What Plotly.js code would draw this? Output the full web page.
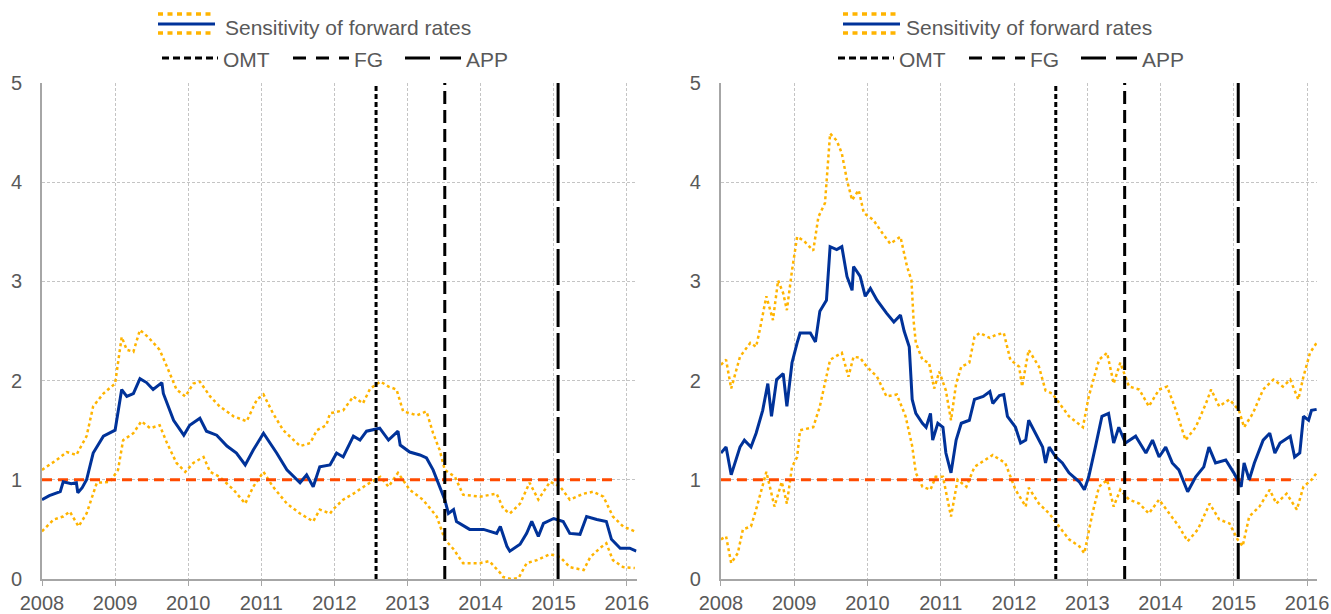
<!DOCTYPE html>
<html><head><meta charset="utf-8">
<script src="https://cdn.plot.ly/plotly-3.0.1.min.js"></script>
<style>body{margin:0;background:#fff}#chart{width:1331px;height:614px}</style>
</head><body><div id="chart"></div>
<script>
// ---------- DATA ----------
const yearTicks = [2008, 2009, 2010, 2011, 2012, 2013, 2014, 2015, 2016];
const yearLabels = ['2008', '2009', '2010', '2011', '2012', '2013', '2014', '2015', '2016'];
const valueTicks = [0, 1, 2, 3, 4, 5];
const seriesName = 'Sensitivity of forward  rates';
const eventNames = ['OMT', 'FG', 'APP'];
const eventDates = [2012.57, 2013.51, 2015.06];
const refLevel = 1;
const refSpan = [2008, 2015.83];

// Left panel
const leftMidX = [2008.00,2008.10,2008.25,2008.29,2008.40,2008.47,2008.49,2008.55,2008.61,2008.70,2008.84,2009.00,2009.09,2009.16,2009.25,2009.34,2009.43,2009.52,2009.64,2009.66,2009.80,2009.94,2010.02,2010.16,2010.25,2010.39,2010.53,2010.66,2010.78,2010.89,2011.03,2011.12,2011.21,2011.35,2011.53,2011.62,2011.71,2011.80,2011.94,2012.03,2012.12,2012.26,2012.35,2012.44,2012.62,2012.74,2012.87,2012.90,2013.03,2013.17,2013.26,2013.35,2013.44,2013.51,2013.56,2013.63,2013.67,2013.85,2014.04,2014.22,2014.27,2014.36,2014.40,2014.54,2014.63,2014.70,2014.79,2014.86,2015.00,2015.13,2015.22,2015.36,2015.45,2015.59,2015.72,2015.79,2015.91,2016.04,2016.13];
const leftMidY = [0.80,0.84,0.88,0.98,0.96,0.97,0.87,0.92,1.00,1.27,1.44,1.50,1.91,1.84,1.87,2.02,1.98,1.91,1.98,1.87,1.60,1.45,1.55,1.62,1.49,1.45,1.34,1.27,1.15,1.30,1.47,1.37,1.27,1.10,0.97,1.05,0.93,1.13,1.15,1.27,1.23,1.44,1.40,1.49,1.52,1.40,1.49,1.35,1.28,1.25,1.22,1.10,0.93,0.80,0.66,0.70,0.58,0.50,0.50,0.46,0.53,0.33,0.28,0.35,0.46,0.58,0.43,0.56,0.61,0.58,0.46,0.45,0.63,0.60,0.58,0.40,0.31,0.31,0.28];

const leftUpX = [2008.00,2008.20,2008.34,2008.47,2008.61,2008.70,2008.84,2009.00,2009.09,2009.16,2009.25,2009.34,2009.45,2009.61,2009.71,2009.84,2009.96,2010.07,2010.16,2010.30,2010.43,2010.62,2010.80,2010.94,2011.03,2011.16,2011.30,2011.44,2011.53,2011.67,2011.76,2011.89,2011.94,2012.12,2012.26,2012.39,2012.49,2012.63,2012.74,2012.85,2012.94,2013.13,2013.26,2013.35,2013.44,2013.51,2013.65,2013.76,2013.99,2014.22,2014.31,2014.40,2014.54,2014.67,2014.79,2014.95,2015.09,2015.22,2015.41,2015.54,2015.68,2015.81,2015.95,2016.11];
const leftUpY = [1.10,1.20,1.28,1.25,1.44,1.74,1.87,1.97,2.44,2.31,2.29,2.51,2.44,2.31,2.14,1.91,1.84,1.97,1.99,1.84,1.74,1.64,1.59,1.81,1.86,1.67,1.50,1.40,1.34,1.37,1.50,1.55,1.67,1.70,1.84,1.77,1.92,1.99,1.94,1.91,1.69,1.65,1.69,1.47,1.30,1.10,1.03,0.85,0.83,0.86,0.71,0.66,0.76,0.97,0.80,0.98,0.93,0.80,0.86,0.88,0.83,0.63,0.53,0.48];

const leftLowX = [2008.00,2008.16,2008.29,2008.38,2008.50,2008.61,2008.75,2008.93,2009.04,2009.11,2009.25,2009.36,2009.48,2009.61,2009.71,2009.84,2009.96,2010.07,2010.21,2010.30,2010.43,2010.62,2010.78,2010.89,2011.03,2011.16,2011.35,2011.53,2011.71,2011.80,2011.94,2011.98,2012.12,2012.26,2012.44,2012.63,2012.74,2012.87,2013.03,2013.21,2013.40,2013.51,2013.63,2013.76,2013.99,2014.12,2014.27,2014.31,2014.42,2014.52,2014.63,2014.77,2014.95,2015.09,2015.22,2015.41,2015.50,2015.63,2015.72,2015.81,2015.95,2016.11];
const leftLowY = [0.48,0.60,0.63,0.68,0.53,0.66,0.97,0.98,1.10,1.40,1.47,1.59,1.52,1.55,1.37,1.17,1.08,1.17,1.23,1.08,1.03,0.90,0.76,0.93,1.08,0.93,0.76,0.66,0.58,0.70,0.66,0.70,0.80,0.86,0.95,1.03,0.93,1.07,0.90,0.80,0.63,0.40,0.30,0.16,0.16,0.18,0.06,0.02,0.00,0.01,0.16,0.19,0.25,0.22,0.12,0.09,0.22,0.31,0.36,0.19,0.12,0.11];

// Right panel
const rightMidX = [2008.00,2008.07,2008.14,2008.26,2008.32,2008.41,2008.48,2008.57,2008.64,2008.69,2008.76,2008.85,2008.90,2008.97,2009.04,2009.08,2009.22,2009.29,2009.35,2009.44,2009.49,2009.58,2009.65,2009.72,2009.79,2009.81,2009.90,2009.97,2010.04,2010.13,2010.26,2010.36,2010.45,2010.50,2010.57,2010.61,2010.66,2010.75,2010.80,2010.86,2010.89,2010.96,2011.03,2011.07,2011.14,2011.21,2011.28,2011.39,2011.46,2011.58,2011.67,2011.71,2011.80,2011.86,2011.91,2012.02,2012.09,2012.16,2012.20,2012.29,2012.39,2012.43,2012.48,2012.57,2012.66,2012.75,2012.89,2012.96,2013.02,2013.11,2013.20,2013.29,2013.36,2013.43,2013.52,2013.66,2013.80,2013.89,2013.98,2014.07,2014.16,2014.25,2014.37,2014.48,2014.59,2014.66,2014.75,2014.89,2015.00,2015.10,2015.14,2015.21,2015.28,2015.40,2015.49,2015.56,2015.63,2015.77,2015.83,2015.90,2015.95,2016.02,2016.06,2016.13];
const rightMidY = [1.27,1.33,1.05,1.33,1.40,1.33,1.47,1.70,1.97,1.64,2.01,2.07,1.74,2.18,2.38,2.48,2.48,2.39,2.70,2.81,3.35,3.32,3.35,3.05,2.91,3.15,3.05,2.85,2.93,2.81,2.68,2.59,2.66,2.50,2.34,1.81,1.67,1.57,1.53,1.67,1.40,1.57,1.53,1.27,1.07,1.40,1.57,1.60,1.81,1.84,1.89,1.77,1.85,1.86,1.64,1.53,1.37,1.40,1.60,1.47,1.33,1.17,1.33,1.23,1.17,1.07,0.98,0.90,1.03,1.33,1.64,1.67,1.37,1.53,1.37,1.44,1.27,1.40,1.23,1.33,1.17,1.10,0.88,1.03,1.13,1.33,1.17,1.20,1.07,0.93,1.17,1.00,1.17,1.40,1.47,1.27,1.37,1.44,1.23,1.27,1.64,1.60,1.70,1.71];

const rightUpX = [2008.00,2008.07,2008.14,2008.26,2008.40,2008.48,2008.53,2008.62,2008.71,2008.78,2008.85,2008.90,2008.97,2009.04,2009.13,2009.26,2009.33,2009.42,2009.49,2009.58,2009.65,2009.72,2009.79,2009.88,2009.95,2010.08,2010.20,2010.31,2010.45,2010.54,2010.60,2010.63,2010.66,2010.75,2010.84,2010.91,2010.98,2011.07,2011.14,2011.21,2011.28,2011.39,2011.46,2011.53,2011.67,2011.75,2011.86,2011.95,2012.07,2012.11,2012.20,2012.34,2012.43,2012.52,2012.62,2012.75,2012.94,2013.02,2013.16,2013.27,2013.36,2013.45,2013.57,2013.71,2013.84,2013.98,2014.09,2014.21,2014.34,2014.48,2014.62,2014.69,2014.80,2014.94,2015.07,2015.14,2015.26,2015.40,2015.54,2015.67,2015.77,2015.88,2015.95,2016.04,2016.13];
const rightUpY = [2.16,2.21,1.92,2.24,2.38,2.34,2.51,2.85,2.61,3.01,2.88,2.71,3.11,3.45,3.41,3.31,3.65,3.79,4.49,4.42,4.29,4.02,3.82,3.92,3.69,3.62,3.49,3.38,3.45,3.15,3.01,2.60,2.38,2.21,2.18,1.92,2.09,1.90,1.60,1.97,2.14,2.18,2.44,2.48,2.43,2.46,2.48,2.21,2.14,1.94,2.31,2.14,1.90,1.87,1.77,1.64,1.53,1.84,2.21,2.28,1.97,2.18,1.94,1.91,1.74,1.91,1.94,1.70,1.40,1.53,1.77,1.91,1.74,1.81,1.70,1.53,1.67,1.91,2.01,1.94,2.01,1.81,2.04,2.28,2.38];

const rightLowX = [2008.00,2008.07,2008.14,2008.23,2008.30,2008.41,2008.48,2008.57,2008.62,2008.69,2008.73,2008.83,2008.90,2008.97,2009.04,2009.08,2009.26,2009.35,2009.49,2009.65,2009.74,2009.81,2009.90,2009.99,2010.13,2010.26,2010.40,2010.52,2010.61,2010.66,2010.75,2010.86,2010.93,2011.03,2011.14,2011.23,2011.35,2011.46,2011.60,2011.71,2011.75,2011.88,2012.02,2012.16,2012.20,2012.34,2012.48,2012.62,2012.75,2012.89,2012.96,2013.07,2013.16,2013.27,2013.36,2013.45,2013.57,2013.71,2013.84,2013.98,2014.12,2014.25,2014.37,2014.51,2014.67,2014.80,2014.94,2015.05,2015.12,2015.21,2015.35,2015.49,2015.58,2015.72,2015.86,2015.95,2016.06,2016.13];
const rightLowY = [0.40,0.43,0.16,0.26,0.50,0.53,0.70,0.93,1.08,0.86,0.73,0.98,0.76,1.13,1.23,1.50,1.53,1.74,2.21,2.28,2.04,2.24,2.23,2.14,2.04,1.84,1.86,1.64,1.34,1.07,0.93,0.90,1.03,1.03,0.63,1.00,0.93,1.13,1.20,1.25,1.23,1.17,0.90,0.73,0.92,0.76,0.66,0.53,0.40,0.33,0.26,0.66,0.93,1.00,0.73,0.90,0.80,0.76,0.66,0.80,0.66,0.53,0.38,0.50,0.76,0.60,0.56,0.40,0.33,0.63,0.73,0.90,0.76,0.86,0.70,0.93,1.00,1.07];

// ---------- STYLE ----------
const BLUE = '#003299', ORANGE = '#FFB400', RED = '#FF4B00', TXT = '#595959';
const FONT = 'Liberation Sans, Arial, sans-serif';
const eventDash = ['5px,3px', '13px,6px', '36px,6px'];
const legendDash = ['7px,4px', '13px,10px', '25px,10px'];

function panelTraces(xa, ya, mid, up, low) {
  const t = [];
  t.push({x: up[0], y: up[1], xaxis: xa, yaxis: ya, mode: 'lines', line: {color: ORANGE, width: 2.5, dash: 'dot'}, hoverinfo: 'skip', showlegend: false});
  t.push({x: low[0], y: low[1], xaxis: xa, yaxis: ya, mode: 'lines', line: {color: ORANGE, width: 2.5, dash: 'dot'}, hoverinfo: 'skip', showlegend: false});
  t.push({x: refSpan, y: [refLevel, refLevel], xaxis: xa, yaxis: ya, mode: 'lines', line: {color: RED, width: 3, dash: '10px,6px'}, hoverinfo: 'skip', showlegend: false});
  t.push({x: mid[0], y: mid[1], xaxis: xa, yaxis: ya, mode: 'lines', name: seriesName, line: {color: BLUE, width: 3}, showlegend: false});
  eventDates.forEach((d, i) => {
    t.push({x: [d, d], y: [valueTicks[0], valueTicks[valueTicks.length - 1]], xaxis: xa, yaxis: ya, mode: 'lines', name: eventNames[i], line: {color: '#000', width: 3, dash: eventDash[i]}, hoverinfo: 'skip', showlegend: false});
  });
  return t;
}

const traces = [].concat(
  panelTraces('x', 'y', [leftMidX, leftMidY], [leftUpX, leftUpY], [leftLowX, leftLowY]),
  panelTraces('x2', 'y2', [rightMidX, rightMidY], [rightUpX, rightUpY], [rightLowX, rightLowY])
);

const M = {l: 42, r: 14, t: 83, b: 35};
const W = 1331, H = 614;
const PW = W - M.l - M.r, PH = H - M.t - M.b;
const px = v => (v - M.l) / PW;
const py = v => (H - M.b - v) / PH;

function xAxis(domain, anchor) {
  return {domain, anchor, range: [2008, 2016.135], tickvals: yearTicks, ticktext: yearLabels,
    showgrid: true, gridcolor: '#c4c4c4', griddash: '3px,2px', gridwidth: 1,
    showline: true, linecolor: '#a6a6a6', linewidth: 2, zeroline: false,
    ticks: 'outside', ticklen: 5, tickwidth: 1, tickcolor: '#a6a6a6',
    tickfont: {family: FONT, size: 20, color: TXT}, fixedrange: true};
}
function yAxis(anchor) {
  return {domain: [0, 1], anchor, range: [0, 5], tickvals: valueTicks,
    showgrid: true, gridcolor: '#c4c4c4', griddash: '3px,2px', gridwidth: 1,
    showline: true, linecolor: '#a6a6a6', linewidth: 2, zeroline: false,
    ticks: 'outside', ticklen: 14, tickcolor: 'rgba(0,0,0,0)',
    tickfont: {family: FONT, size: 20, color: TXT}, fixedrange: true};
}

const shapes = [], annotations = [];
function legendBlock(symX, textX, row2X) {
  // row 1: composite symbol
  [[14, ORANGE, 3.5, '5px,4.5px'], [33, ORANGE, 3.5, '5px,4.5px'], [24, BLUE, 3, 'solid']].forEach(([yy, c, w, d]) => {
    shapes.push({type: 'line', xref: 'paper', yref: 'paper', x0: px(symX), x1: px(symX + 57), y0: py(yy), y1: py(yy), line: {color: c, width: w, dash: d}});
  });
  annotations.push({xref: 'paper', yref: 'paper', x: px(textX), y: py(27), xanchor: 'left', yanchor: 'middle', showarrow: false, text: seriesName.replace('  ', ' '), font: {family: FONT, size: 21, color: TXT}});
  // row 2: events
  const offs = [0, 131, 243];
  eventNames.forEach((n, i) => {
    const x0 = row2X + offs[i];
    shapes.push({type: 'line', xref: 'paper', yref: 'paper', x0: px(x0), x1: px(x0 + 56), y0: py(58), y1: py(58), line: {color: '#000', width: 3, dash: legendDash[i]}});
    annotations.push({xref: 'paper', yref: 'paper', x: px(x0 + 59), y: py(59), xanchor: 'left', yanchor: 'middle', showarrow: false, text: n, font: {family: FONT, size: 21, color: TXT}});
  });
}
legendBlock(158, 223, 162);
legendBlock(843, 904, 838);

const layout = {
  width: W, height: H, margin: M, paper_bgcolor: '#fff', plot_bgcolor: '#fff',
  showlegend: false, font: {family: FONT, color: TXT},
  xaxis: xAxis([0, 0.4664], 'y'), yaxis: yAxis('x'),
  xaxis2: xAxis([0.5325, 1], 'y2'), yaxis2: yAxis('x2'),
  shapes, annotations
};

Plotly.newPlot('chart', traces, layout, {staticPlot: true, displayModeBar: false});
</script>
</body></html>
